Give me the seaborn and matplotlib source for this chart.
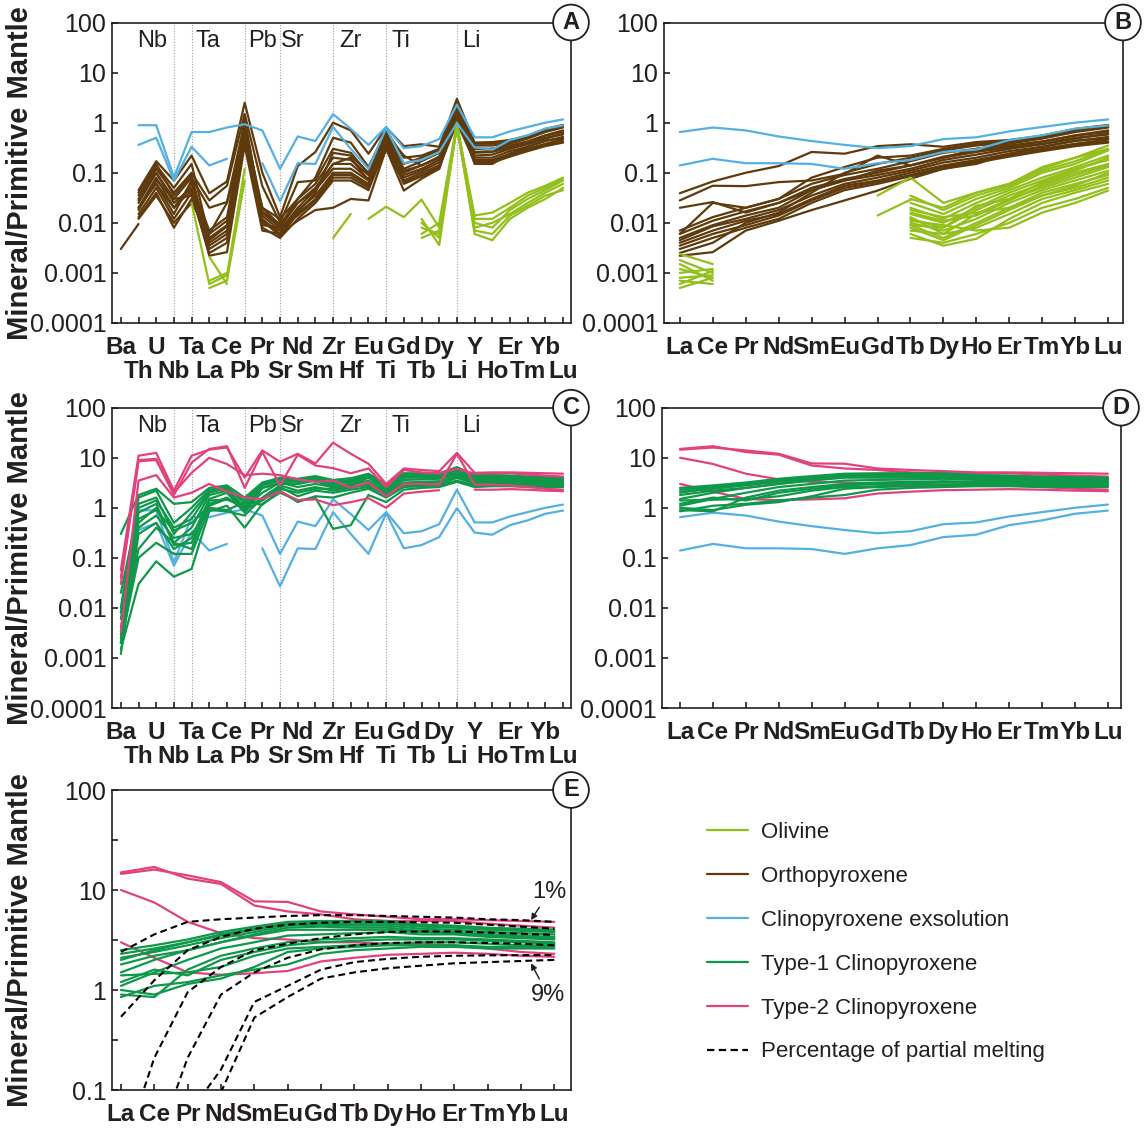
import numpy as np
import pandas as pd
import matplotlib
matplotlib.use("Agg")
import matplotlib.pyplot as plt
from matplotlib.lines import Line2D
from matplotlib.ticker import FixedLocator, NullFormatter, NullLocator
import seaborn as sns

N = np.nan

# ---------------------------------------------------------------- categories
SPIDER = ['Ba', 'Th', 'U', 'Nb', 'Ta', 'La', 'Ce', 'Pb', 'Pr', 'Sr', 'Nd', 'Sm', 'Zr',
          'Hf', 'Eu', 'Ti', 'Gd', 'Tb', 'Dy', 'Li', 'Y', 'Ho', 'Er', 'Tm', 'Yb', 'Lu']
REE = ['La', 'Ce', 'Pr', 'Nd', 'Sm', 'Eu', 'Gd', 'Tb', 'Dy', 'Ho', 'Er', 'Tm', 'Yb', 'Lu']
ANOMALIES = ['Nb', 'Ta', 'Pb', 'Sr', 'Zr', 'Ti', 'Li']
Y_TICKS = [1e-4, 1e-3, 1e-2, 0.1, 1, 10, 100]
Y_TICK_LABELS = ['0.0001', '0.001', '0.01', '0.1', '1', '10', '100']
E_Y_TICKS = [0.1, 1, 10, 100]
E_Y_TICK_LABELS = ['0.1', '1', '10', '100']
E_Y_MINOR = [0.316, 3.16, 31.6]
LEGEND_LABELS = ['Olivine', 'Orthopyroxene', 'Clinopyroxene exsolution',
                 'Type-1 Clinopyroxene', 'Type-2 Clinopyroxene',
                 'Percentage of partial melting']

# ---------------------------------------------------------------- data (spider order)
opx_spider = [
    [N, 0.045, 0.17, 0.07, 0.22, 0.039, 0.067, 2.5, 0.10, 0.013, 0.136, 0.26, 1.0, 0.7, 0.24, 0.8, 0.34, 0.37, 0.33, 3.0, 0.40, 0.41, 0.45, 0.55, 0.75, 0.90],
    [N, 0.030, 0.12, 0.04, 0.10, 0.028, 0.055, 1.5, 0.054, 0.010, 0.065, 0.07, 0.30, 0.25, 0.095, 0.6, 0.22, 0.14, 0.20, 2.0, 0.30, 0.30, 0.35, 0.42, 0.55, 0.65],
    [N, 0.025, 0.10, 0.03, 0.08, 0.020, 0.026, 1.0, 0.016, 0.008, 0.025, 0.045, 0.15, 0.20, 0.07, 0.5, 0.11, 0.14, 0.20, 1.8, 0.25, 0.26, 0.32, 0.38, 0.50, 0.58],
    [N, 0.020, 0.08, 0.02, 0.06, 0.007, 0.013, 0.8, 0.020, 0.012, 0.030, 0.06, 0.20, 0.18, 0.09, 0.55, 0.12, 0.17, 0.25, 2.0, 0.30, 0.30, 0.38, 0.48, 0.65, 0.80],
    [N, 0.015, 0.05, 0.012, 0.04, 0.006, 0.011, 0.6, 0.017, 0.009, 0.025, 0.05, 0.15, 0.15, 0.075, 0.45, 0.10, 0.14, 0.21, 1.6, 0.26, 0.27, 0.34, 0.42, 0.56, 0.70],
    [N, 0.035, 0.14, 0.05, 0.15, 0.005, 0.009, 1.2, 0.014, 0.007, 0.020, 0.045, 0.12, 0.12, 0.07, 0.40, 0.09, 0.12, 0.18, 1.4, 0.22, 0.23, 0.30, 0.37, 0.48, 0.60],
    [N, 0.013, 0.04, 0.008, 0.03, 0.0045, 0.0085, 0.5, 0.012, 0.006, 0.018, 0.035, 0.10, 0.10, 0.06, 0.35, 0.08, 0.11, 0.16, 1.2, 0.20, 0.20, 0.27, 0.33, 0.43, 0.52],
    [N, 0.028, 0.10, 0.025, 0.05, 0.004, 0.007, 0.4, 0.011, 0.0055, 0.015, 0.03, 0.09, 0.09, 0.055, 0.32, 0.07, 0.10, 0.14, 1.1, 0.18, 0.18, 0.24, 0.30, 0.38, 0.46],
    [N, 0.040, 0.15, 0.035, 0.09, 0.0035, 0.006, 0.9, 0.009, 0.008, 0.014, 0.028, 0.08, 0.08, 0.05, 0.30, 0.065, 0.09, 0.13, 1.0, 0.17, 0.17, 0.22, 0.28, 0.36, 0.42],
    [N, N, 0.06, 0.015, 0.07, 0.003, 0.005, 0.7, 0.008, 0.005, 0.012, 0.025, 0.07, 0.07, 0.045, 0.35, 0.06, 0.085, 0.12, 1.3, 0.16, 0.16, 0.21, 0.27, 0.34, 0.40],
    [N, 0.020, 0.06, 0.02, 0.045, 0.0022, 0.0026, 0.35, 0.007, 0.006, 0.011, 0.018, 0.02, 0.03, 0.028, 0.30, 0.044, 0.076, 0.12, 1.5, 0.15, 0.15, 0.24, 0.33, 0.44, 0.48],
    [N, 0.018, 0.07, 0.03, 0.035, 0.0025, 0.004, 0.55, 0.010, 0.007, 0.016, 0.04, 0.25, 0.22, 0.10, 0.60, 0.15, 0.20, 0.28, 2.2, 0.35, 0.35, 0.40, 0.50, 0.70, 0.85],
    [N, 0.012, 0.035, 0.01, 0.025, 0.006, 0.025, 0.45, 0.020, 0.009, 0.030, 0.08, 0.50, 0.40, 0.13, 0.70, 0.20, 0.22, 0.30, 2.5, 0.38, 0.38, 0.42, 0.52, 0.72, 0.88],
    [0.003, 0.0095] + [N] * 24,
]

olivine_spider = [
    [N, N, N, N, 0.025, 0.0006, 0.0009, 0.12] + [N] * 18,
    [N, N, N, N, N, 0.0005, 0.0007, 0.07] + [N] * 18,
    [N, N, N, N, N, 0.0021, 0.0006] + [N] * 19,
    [N, N, N, N, N, 0.0007, 0.0010] + [N] * 19,
    [N] * 12 + [0.005, 0.015] + [N] * 12,
    [N] * 14 + [0.012, 0.021, 0.013, 0.029, 0.008, 0.9, 0.014, 0.016, 0.025, 0.04, 0.055, 0.08],
    [N] * 17 + [0.012, 0.0036, 0.9, 0.006, 0.0045, 0.012, 0.02, 0.03, 0.05],
    [N] * 17 + [0.008, 0.006, 0.8, 0.008, 0.010, 0.015, 0.025, 0.04, 0.06],
    [N] * 17 + [0.006, 0.010, 1.0, 0.010, 0.008, 0.018, 0.03, 0.045, 0.07],
    [N] * 17 + [0.010, 0.005, 0.85, 0.012, 0.012, 0.020, 0.035, 0.05, 0.075],
    [N] * 17 + [0.005, 0.007, 0.9, 0.007, 0.006, 0.014, 0.022, 0.035, 0.045],
]

cpx_exsolution_spider = [
    [N, 0.89, 0.89, 0.081, 0.65, 0.65, 0.80, 0.93, 0.70, 0.12, 0.53, 0.43, 1.48, 0.75, 0.36, 0.82, 0.31, 0.34, 0.47, 2.3, 0.51, 0.51, 0.67, 0.82, 1.0, 1.16],
    [N, 0.36, 0.50, 0.070, 0.33, 0.14, 0.19, N, 0.155, 0.027, 0.155, 0.15, 0.82, 0.30, 0.12, 0.78, 0.155, 0.18, 0.26, 0.98, 0.32, 0.29, 0.45, 0.56, 0.76, 0.88],
]

type1_cpx_spider = [
    [0.30, 1.8, 2.4, 1.2, 1.3, 2.5, 2.8, 1.6, 3.2, 4.0, 3.8, 4.3, 3.6, 3.9, 4.8, 3.0, 4.9, 4.9, 4.9, 6.5, 4.5, 4.5, 4.4, 4.2, 4.1, 4.0],
    [0.010, 1.6, 2.2, 0.5, 1.0, 2.3, 2.6, 1.2, 3.0, 3.8, 3.5, 4.0, 3.3, 3.6, 4.6, 2.8, 4.7, 4.6, 4.6, 6.0, 4.3, 4.3, 4.2, 4.0, 3.9, 3.8],
    [0.002, 1.2, 1.6, 0.3, 0.8, 2.1, 2.4, 1.0, 2.8, 3.5, 3.3, 3.8, 3.0, 3.3, 4.4, 2.6, 4.5, 4.4, 4.4, 5.5, 4.1, 4.1, 4.0, 3.8, 3.7, 3.6],
    [0.004, 0.5, 1.0, 0.2, 0.4, 1.8, 2.2, 0.9, 2.5, 3.2, 3.0, 3.6, 2.8, 3.0, 4.2, 2.4, 4.3, 4.2, 4.2, 5.0, 3.9, 3.9, 3.8, 3.6, 3.5, 3.4],
    [0.0012, 0.3, 0.5, 0.15, 0.25, 1.5, 2.0, 0.8, 2.5, 3.0, 3.0, 3.5, 2.5, 2.8, 4.0, 2.2, 4.0, 4.0, 4.0, 4.8, 3.8, 3.8, 3.7, 3.5, 3.4, 3.3],
    [0.003, 0.15, 0.4, 0.2, 0.15, 1.4, 1.45, 1.1, 1.5, 2.6, 1.7, 2.2, 2.0, 2.3, 2.6, 1.8, 2.7, 2.8, 2.9, 4.0, 3.0, 3.0, 3.0, 2.9, 2.8, 2.8],
    [0.002, 0.1, 0.2, 0.12, 0.12, 1.0, 0.9, 1.3, 1.15, 2.2, 1.3, 1.7, 1.6, 2.0, 2.4, 1.6, 2.6, 2.7, 2.8, 3.5, 2.8, 2.8, 2.8, 2.7, 2.7, 2.7],
    [0.0015, 0.03, 0.085, 0.042, 0.06, 0.85, 1.1, 0.4, 1.2, 2.0, 1.4, 1.6, 0.38, 0.45, 1.8, 1.3, 2.3, 2.5, 2.6, 3.3, 2.6, 2.7, 2.7, 2.6, 2.6, 2.6],
    [0.006, 0.6, 0.9, 0.35, 0.5, 1.1, 1.5, 1.0, 2.0, 3.2, 2.6, 3.0, 2.6, 2.8, 3.5, 2.0, 3.6, 3.7, 3.8, 4.5, 3.6, 3.6, 3.6, 3.4, 3.3, 3.2],
    [0.0025, 0.4, 0.7, 0.25, 0.3, 0.9, 0.85, 0.7, 1.6, 2.8, 2.2, 2.6, 2.2, 2.5, 3.0, 1.9, 3.2, 3.3, 3.4, 4.2, 3.3, 3.3, 3.3, 3.2, 3.1, 3.0],
    [0.02, 1.0, 1.4, 0.4, 0.6, 2.0, 2.5, 1.4, 3.0, 3.6, 3.6, 4.1, 3.2, 3.5, 4.6, 2.9, 4.6, 4.6, 4.7, 5.8, 4.4, 4.4, 4.3, 4.1, 4.0, 3.9],
    [0.008, 0.8, 1.2, 0.18, 0.2, 1.2, 1.6, 0.9, 1.4, 2.4, 2.0, 2.4, 2.4, 2.6, 2.8, 2.0, 3.0, 3.1, 3.2, 4.0, 3.2, 3.2, 3.2, 3.1, 3.0, 2.9],
]

type2_cpx_spider = [
    [0.057, 11, 12.5, 2.2, 11, 14.5, 16, 4.0, 14, 8.3, 12, 7.7, 20, 12, 7.6, 3.0, 6.1, 5.7, 5.4, 12.5, 5.0, 5.1, 5.1, 5.0, 4.9, 4.8],
    [0.030, 8.5, 9.0, 1.8, 8.0, 15, 17, 2.5, 13, 2.8, 11.5, 7.0, 6.2, 4.9, 6.1, 2.6, 5.7, 5.1, 4.9, 6.0, 4.8, 4.9, 4.9, 4.6, 4.4, 4.2],
    [0.040, 9.0, 9.5, 2.0, 5.0, 10, 7.5, 4.5, 4.8, 4.5, 3.7, 3.3, 3.5, 2.5, 3.2, 1.7, 3.0, 3.0, 2.9, 12, 2.9, 2.9, 2.8, 2.6, 2.4, 2.3],
    [0.0033, 3.5, 4.5, 1.6, 2.0, 3.0, 2.1, 1.6, 1.5, 2.1, 1.42, 1.47, 1.13, 1.3, 1.55, 1.0, 1.93, 2.1, 2.25, N, 2.3, 2.3, 2.36, 2.3, 2.2, 2.15],
]

# ---------------------------------------------------------------- data (REE order)
olivine_ree = [
    [0.0024, 0.0015] + [N] * 12,
    [0.0018, 0.0010] + [N] * 12,
    [0.0012, 0.0008] + [N] * 12,
    [0.0010, 0.0012] + [N] * 12,
    [0.0008, 0.0009] + [N] * 12,
    [0.0006, 0.0011] + [N] * 12,
    [0.0007, 0.0006] + [N] * 12,
    [0.0015, 0.0007] + [N] * 12,
    [0.0005, 0.0008] + [N] * 12,
    [N] * 6 + [0.014, 0.029] + [N] * 6,
    [N] * 6 + [0.035, 0.08, 0.025, 0.04, 0.06, 0.12, 0.20, 0.30],
    [N] * 7 + [0.030, 0.020, 0.040, 0.060, 0.13, 0.20, 0.35],
    [N] * 7 + [0.025, 0.015, 0.030, 0.050, 0.10, 0.15, 0.28],
    [N] * 7 + [0.020, 0.012, 0.025, 0.045, 0.08, 0.13, 0.22],
    [N] * 7 + [0.015, 0.010, 0.020, 0.040, 0.07, 0.12, 0.18],
    [N] * 7 + [0.012, 0.008, 0.018, 0.035, 0.06, 0.10, 0.15],
    [N] * 7 + [0.013, 0.006, 0.015, 0.030, 0.05, 0.08, 0.13],
    [N] * 7 + [0.010, 0.007, 0.012, 0.025, 0.045, 0.07, 0.11],
    [N] * 7 + [0.009, 0.005, 0.010, 0.020, 0.040, 0.06, 0.09],
    [N] * 7 + [0.008, 0.0045, 0.009, 0.018, 0.035, 0.05, 0.08],
    [N] * 7 + [0.007, 0.006, 0.008, 0.015, 0.030, 0.045, 0.07],
    [N] * 7 + [0.006, 0.0035, 0.0048, 0.012, 0.025, 0.04, 0.06],
    [N] * 7 + [0.005, 0.004, 0.006, 0.010, 0.020, 0.03, 0.05],
    [N] * 7 + [0.011, 0.009, 0.007, 0.008, 0.016, 0.025, 0.044],
    [N] * 7 + [0.016, 0.011, 0.014, 0.028, 0.055, 0.09, 0.14],
    [N] * 7 + [0.035, 0.018, 0.035, 0.055, 0.11, 0.17, 0.30],
    [N] * 7 + [0.018, 0.013, 0.016, 0.020, 0.035, 0.055, 0.10],
    [N] * 7 + [0.009, 0.008, 0.022, 0.030, 0.065, 0.11, 0.20],
]

melting_ree = [
    [2.4, 3.6, 4.8, 5.1, 5.3, 5.5, 5.6, 5.6, 5.5, 5.4, 5.3, 5.1, 5.0, 4.8],
    [0.54, 1.25, 2.5, 3.4, 4.1, 4.5, 4.7, 4.8, 4.8, 4.75, 4.7, 4.5, 4.3, 4.1],
    [0.021, 0.21, 0.95, 1.7, 2.5, 2.9, 3.3, 3.6, 3.8, 3.85, 3.85, 3.75, 3.65, 3.55],
    [N, 0.025, 0.21, 0.9, 1.5, 2.1, 2.55, 2.8, 2.95, 3.0, 3.0, 2.95, 2.9, 2.8],
    [N, N, 0.056, 0.16, 0.76, 1.1, 1.6, 1.9, 2.05, 2.15, 2.2, 2.22, 2.23, 2.24],
    [N, N, N, 0.095, 0.53, 0.85, 1.3, 1.5, 1.65, 1.75, 1.85, 1.9, 1.95, 2.0],
]

COL_OL = '#93bf1b'
COL_OPX = '#5f3a0c'
COL_EXS = '#55b0e2'
COL_T1 = '#10984a'
COL_T2 = '#e1427e'
COL_TXT = '#231f20'
NARROW = ['Liberation Sans Narrow', 'Liberation Sans', 'DejaVu Sans']

# ---------------------------------------------------------------- helpers
REE_IDX = [SPIDER.index(e) for e in REE]


def ree_subset(rows):
    return [[r[i] for i in REE_IDX] for r in rows]


def to_long(rows, labels, name):
    recs = []
    for li, row in enumerate(rows):
        seg, gap = 0, True
        for xi, v in enumerate(row):
            if v is None or np.isnan(v):
                gap = True
                continue
            if gap:
                seg += 1
                gap = False
            recs.append(dict(seg=f'{name}-{li}-{seg}', x=xi, element=labels[xi], value=v))
    return pd.DataFrame(recs)


def draw(ax, rows, labels, name, color, lw=1.6, ls='-', z=2):
    df = to_long(rows, labels, name)
    sns.lineplot(data=df, x='x', y='value', units='seg', estimator=None, color=color,
                 lw=lw, linestyle=ls, ax=ax, legend=False, sort=False, zorder=z)


W, H = 1145, 1129
sns.set_theme(style='white')
plt.rcParams['font.family'] = ['Liberation Sans', 'DejaVu Sans']
plt.rcParams['text.color'] = COL_TXT

fig = plt.figure(figsize=(W / 100, H / 100), dpi=100)
fig.patch.set_facecolor('white')


def px_axes(left, top, right, bottom):
    return fig.add_axes([left / W, 1 - bottom / H, (right - left) / W, (bottom - top) / H])


def style(ax, labels, xlim, yticks, ylabels, two_rows, minor=()):
    ax.set_yscale('log')
    ax.set_ylim(yticks[0], yticks[-1])
    ax.set_xlim(*xlim)
    ax.set_xticks(range(len(labels)))
    ax.set_xticklabels(labels, fontfamily=NARROW, fontweight='bold', fontsize=17.5, va='center')
    ax.set_yticks(yticks)
    ax.set_yticklabels(ylabels, fontfamily=NARROW, fontsize=18)
    ax.yaxis.set_minor_locator(FixedLocator(list(minor)))
    ax.yaxis.set_minor_formatter(NullFormatter())
    ax.xaxis.set_minor_locator(NullLocator())
    ax.tick_params(axis='both', which='both', direction='in', length=4.5, width=1.2,
                   color=COL_TXT, labelcolor=COL_TXT, left=True, bottom=True, top=False, right=False)
    ax.tick_params(axis='x', pad=17.5)
    ax.tick_params(axis='y', pad=4)
    for s in ax.spines.values():
        s.set_visible(True)
        s.set_color(COL_TXT)
        s.set_linewidth(1.2)
    ax.set_xlabel('')
    ax.set_ylabel('')
    ax.set_facecolor('white')
    if two_rows:
        for i, t in enumerate(ax.xaxis.get_major_ticks()):
            if i % 2 == 1:
                t.label1.set_y(-24 / 300)


def letter(ax, s):
    ax.text(1.0, 1.0, s, transform=ax.transAxes, ha='center', va='center', fontsize=17,
            fontweight='bold', zorder=30, clip_on=False,
            bbox=dict(boxstyle='circle,pad=0.27', fc='white', ec=COL_TXT, lw=1.3))


ANOM_OFFSET = {'Nb': -1.25, 'Ta': 0.9, 'Pb': 1.0, 'Sr': 0.72, 'Zr': 1.0, 'Ti': 0.83, 'Li': 0.84}


def anomalies(ax):
    for el in ANOMALIES:
        i = SPIDER.index(el)
        ax.axvline(i, color='#a0a0a0', lw=0.8, ls=(0, (1, 1.5)), zorder=0.5)
        ax.text(i + ANOM_OFFSET[el], 0.94, el, transform=ax.get_xaxis_transform(),
                ha='center', va='center', fontsize=17, color=COL_TXT)


# ---------------------------------------------------------------- panel A
axA = px_axes(112, 22.5, 571, 323)
anomalies(axA)
draw(axA, opx_spider, SPIDER, 'opx', COL_OPX, z=2)
draw(axA, olivine_spider, SPIDER, 'ol', COL_OL, z=3)
draw(axA, cpx_exsolution_spider, SPIDER, 'exs', COL_EXS, z=4)
style(axA, SPIDER, (-0.5, 25.45), Y_TICKS, Y_TICK_LABELS, True)
letter(axA, 'A')

# ---------------------------------------------------------------- panel B
axB = px_axes(664, 22.5, 1123, 323)
draw(axB, ree_subset(opx_spider), REE, 'opx', COL_OPX, z=2)
draw(axB, olivine_ree, REE, 'ol', COL_OL, z=3)
draw(axB, ree_subset(cpx_exsolution_spider), REE, 'exs', COL_EXS, z=4)
style(axB, REE, (-0.48, 13.45), Y_TICKS, Y_TICK_LABELS, False)
letter(axB, 'B')

# ---------------------------------------------------------------- panel C
axC = px_axes(112, 407.7, 571, 708)
anomalies(axC)
draw(axC, cpx_exsolution_spider, SPIDER, 'exs', COL_EXS, z=2)
draw(axC, type1_cpx_spider, SPIDER, 't1', COL_T1, z=3)
draw(axC, type2_cpx_spider, SPIDER, 't2', COL_T2, z=4)
style(axC, SPIDER, (-0.5, 25.45), Y_TICKS, Y_TICK_LABELS, True)
letter(axC, 'C')

# ---------------------------------------------------------------- panel D
axD = px_axes(662, 407.7, 1121, 708)
draw(axD, ree_subset(cpx_exsolution_spider), REE, 'exs', COL_EXS, z=2)
draw(axD, ree_subset(type2_cpx_spider), REE, 't2', COL_T2, z=3)
draw(axD, ree_subset(type1_cpx_spider), REE, 't1', COL_T1, z=4)
style(axD, REE, (-0.55, 13.4), Y_TICKS, Y_TICK_LABELS, False)
letter(axD, 'D')

# ---------------------------------------------------------------- panel E
axE = px_axes(112, 790, 571, 1090)
draw(axE, ree_subset(type2_cpx_spider), REE, 't2', COL_T2, z=2)
draw(axE, ree_subset(type1_cpx_spider), REE, 't1', COL_T1, z=3)
draw(axE, melting_ree, REE, 'melt', 'black', lw=1.5, ls=(0, (3.3, 2.0)), z=4)
style(axE, REE, (-0.27, 13.5), E_Y_TICKS, E_Y_TICK_LABELS, False, minor=E_Y_MINOR)
letter(axE, 'E')
axE.annotate('1%', xy=(12.3, 5.0), xytext=(12.85, 9.6), ha='center', va='center',
             fontsize=17, fontfamily=NARROW, color=COL_TXT,
             arrowprops=dict(arrowstyle='-|>', color=COL_TXT, lw=1.0, shrinkA=1, shrinkB=0,
                             mutation_scale=9))
axE.annotate('9%', xy=(12.3, 1.85), xytext=(12.8, 0.9), ha='center', va='center',
             fontsize=17, fontfamily=NARROW, color=COL_TXT,
             arrowprops=dict(arrowstyle='-|>', color=COL_TXT, lw=1.0, shrinkA=1, shrinkB=0,
                             mutation_scale=9))

# ---------------------------------------------------------------- y labels
for top, bot in [(22.5, 323), (407.7, 708), (790, 1090)]:
    fig.text(20 / W, 1 - (top + bot) / 2 / H, 'Mineral/Primitive Mantle', rotation=90,
             ha='center', va='center', fontsize=21, fontweight='bold', color=COL_TXT)

# ---------------------------------------------------------------- legend
handles = [Line2D([], [], color=c, lw=1.6, ls=ls) for c, ls in
           [(COL_OL, '-'), (COL_OPX, '-'), (COL_EXS, '-'), (COL_T1, '-'), (COL_T2, '-'),
            ('black', (0, (3.3, 2.0)))]]
fig.legend(handles, LEGEND_LABELS, loc='upper left', bbox_to_anchor=(687 / W, 1 - 802 / H),
           frameon=False, fontsize=16, handlelength=1.85, handletextpad=0.6,
           labelspacing=1.03, borderpad=0.4, labelcolor=COL_TXT)

fig.savefig('out.png', dpi=100, facecolor='white')
